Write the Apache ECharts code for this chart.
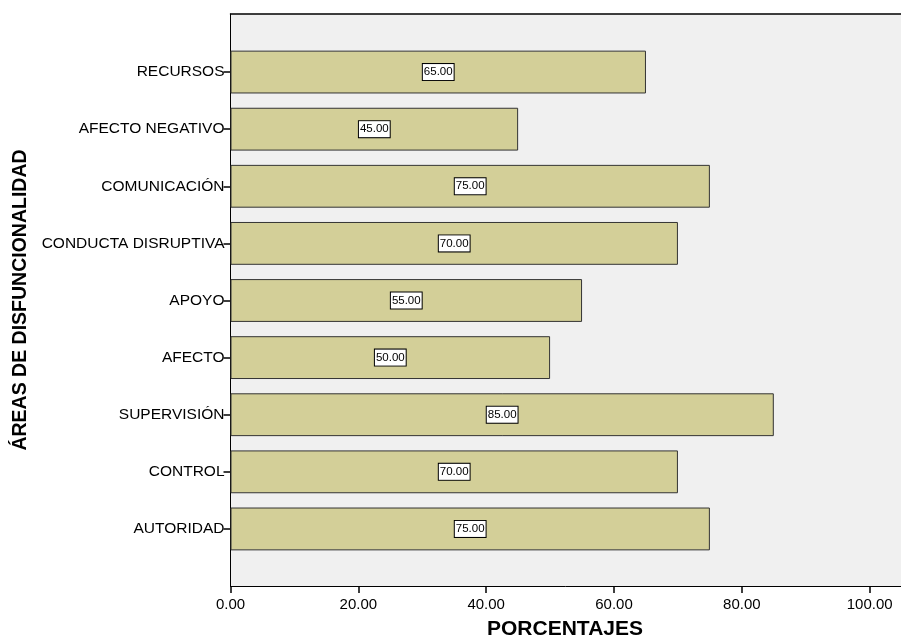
<!DOCTYPE html>
<html>
<head>
<meta charset="utf-8">
<script src="https://cdn.jsdelivr.net/npm/echarts@6/dist/echarts.min.js"></script>
<style>html,body{margin:0;padding:0;background:#fff}#c{width:901px;height:639px}</style>
</head>
<body>
<div id="c"></div>
<script>
const categories = ['AUTORIDAD','CONTROL','SUPERVISIÓN','AFECTO','APOYO','CONDUCTA DISRUPTIVA','COMUNICACIÓN','AFECTO NEGATIVO','RECURSOS'];
const values = [75, 70, 85, 50, 55, 70, 75, 45, 65];
const xTicks = [0, 20, 40, 60, 80, 100];
const xMin = 0, xMax = 104.9, xInterval = 20;
const xAxisTitle = 'PORCENTAJES';
const yAxisTitle = 'ÁREAS DE DISFUNCIONALIDAD';

const font = 'Liberation Sans, Arial, sans-serif';
const chart = echarts.init(document.getElementById('c'), null, {renderer: 'canvas'});
chart.setOption({
  animation: false,
  backgroundColor: '#ffffff',
  grid: [
    {left: 230.5, right: 0, top: 14, bottom: 53, show: true, backgroundColor: '#f0f0f0', borderWidth: 0, containLabel: false},
    {left: 230.5, right: 0, top: 43.5, bottom: 81.5, containLabel: false}
  ],
  xAxis: [
    {type: 'value', gridIndex: 0, min: xMin, max: xMax, interval: xInterval, position: 'bottom',
     axisLine: {show: true, lineStyle: {color: '#000', width: 1}},
     axisTick: {show: true, length: 7, customValues: xTicks, lineStyle: {color: '#000', width: 1.5}},
     axisLabel: {show: true, customValues: xTicks, margin: 11, color: '#000', fontSize: 15, fontFamily: font,
       formatter: v => Number(v).toFixed(2)},
     splitLine: {show: false}},
    {type: 'value', gridIndex: 0, min: xMin, max: xMax, position: 'top',
     axisLine: {show: true, lineStyle: {color: '#000', width: 1.5}},
     axisTick: {show: false}, axisLabel: {show: false}, splitLine: {show: false}},
    {type: 'value', gridIndex: 1, min: xMin, max: xMax, show: false, splitLine: {show: false}}
  ],
  yAxis: [
    {type: 'value', gridIndex: 0, position: 'left',
     axisLine: {show: true, lineStyle: {color: '#000', width: 1}},
     axisTick: {show: false}, axisLabel: {show: false}, splitLine: {show: false}},
    {type: 'category', gridIndex: 1, data: categories,
     axisLine: {show: false},
     axisTick: {show: true, alignWithLabel: true, length: 7, lineStyle: {color: '#000', width: 1.5}},
     axisLabel: {color: '#000', fontSize: 15.5, fontFamily: font, margin: 6},
     splitLine: {show: false}}
  ],
  series: [{
    type: 'bar', xAxisIndex: 2, yAxisIndex: 1, data: values,
    barCategoryGap: '25%',
    itemStyle: {color: '#d3cf98', borderColor: '#333', borderWidth: 1},
    label: {show: true, position: 'inside', color: '#000', fontSize: 11.5, fontFamily: font,
      backgroundColor: '#fff', borderColor: '#000', borderWidth: 1, padding: [2, 1, 2, 1],
      formatter: p => p.value.toFixed(2)}
  }],
  graphic: [
    {type: 'text', x: 565, y: 629, style: {text: xAxisTitle, font: 'bold 21px ' + font, fill: '#000', textAlign: 'center', textVerticalAlign: 'middle'}},
    {type: 'text', x: 21, y: 300, rotation: Math.PI / 2, style: {text: yAxisTitle, font: 'bold 19.5px ' + font, fill: '#000', textAlign: 'center', textVerticalAlign: 'middle'}}
  ]
});
</script>
</body>
</html>
